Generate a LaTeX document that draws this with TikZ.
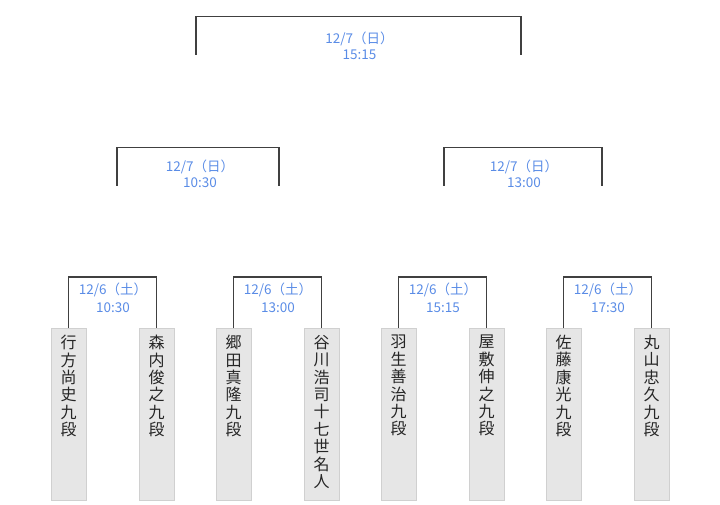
\documentclass[tikz,border=0pt]{standalone}
\usepackage{fontspec}
\setmainfont{Noto Sans CJK JP}
\definecolor{lineclr}{RGB}{64,64,64}
\definecolor{boxfill}{RGB}{230,230,230}
\definecolor{boxedge}{RGB}{208,208,208}
\definecolor{dateclr}{RGB}{90,140,230}
\begin{document}
\begin{tikzpicture}[x=1bp,y=-1bp,
  bracket/.style={draw=lineclr, line width=1.3bp},
  namebox/.style={draw=boxedge, fill=boxfill, line width=0.8bp, minimum width=35bp, minimum height=172bp, anchor=north, inner sep=0pt},
  nametext/.style={anchor=north, align=center, font=\fontsize{16bp}{17.4bp}\selectfont, inner sep=0pt, text=black!85},
  datelbl/.style={align=center, text=dateclr, inner sep=0pt, font=\fontsize{13.5bp}{16bp}\selectfont},
  datelow/.style={datelbl, font=\fontsize{13.5bp}{18.5bp}\selectfont},
]
\useasboundingbox (0,0) rectangle (720,505);

% name boxes
\node[namebox] (b1) at (68.5,328) {};
\node[namebox] (b2) at (156.5,328) {};
\node[namebox] (b3) at (233.5,328) {};
\node[namebox] (b4) at (321.5,328) {};
\node[namebox] (b5) at (398.5,328) {};
\node[namebox] (b6) at (486.5,328) {};
\node[namebox] (b7) at (563.5,328) {};
\node[namebox] (b8) at (651.5,328) {};

% names
\node[nametext] (n1) at (68.5,335) {行\\方\\尚\\史\\九\\段};
\node[nametext] (n2) at (156.5,335) {森\\内\\俊\\之\\九\\段};
\node[nametext] (n3) at (233.5,335) {郷\\田\\真\\隆\\九\\段};
\node[nametext] (n4) at (321.5,335) {谷\\川\\浩\\司\\十\\七\\世\\名\\人};
\node[nametext] (n5) at (398.5,335) {羽\\生\\善\\治\\九\\段};
\node[nametext] (n6) at (486.5,335) {屋\\敷\\伸\\之\\九\\段};
\node[nametext] (n7) at (563.5,335) {佐\\藤\\康\\光\\九\\段};
\node[nametext] (n8) at (651.5,335) {丸\\山\\忠\\久\\九\\段};

% first round brackets
\coordinate (j1) at (112,277);
\coordinate (j2) at (277,277);
\coordinate (j3) at (442,277);
\coordinate (j4) at (607,277);
\draw[bracket] (b1.north) |- (j1) -| (b2.north);
\draw[bracket] (b3.north) |- (j2) -| (b4.north);
\draw[bracket] (b5.north) |- (j3) -| (b6.north);
\draw[bracket] (b7.north) |- (j4) -| (b8.north);
\node[datelow] (d1) at (113,298) {12/6（土）\\10:30};
\node[datelow] (d2) at (278,298) {12/6（土）\\13:00};
\node[datelow] (d3) at (443,298) {12/6（土）\\15:15};
\node[datelow] (d4) at (608,298) {12/6（土）\\17:30};

% semi-final brackets
\coordinate (sl1) at (117,186);
\coordinate (sr1) at (279,186);
\coordinate (st1) at (198,147.5);
\coordinate (sl2) at (444,186);
\coordinate (sr2) at (602,186);
\coordinate (st2) at (523,147.5);
\draw[bracket] (sl1) |- (st1) -| (sr1);
\draw[bracket] (sl2) |- (st2) -| (sr2);
\node[datelbl] (d5) at (200,173.5) {12/7（日）\\10:30};
\node[datelbl] (d6) at (524,173.5) {12/7（日）\\13:00};

% final bracket
\coordinate (fl) at (196,55);
\coordinate (fr) at (521,55);
\coordinate (ft) at (358.5,16.5);
\draw[bracket] (fl) |- (ft) -| (fr);
\node[datelbl] (d7) at (359.5,46) {12/7（日）\\15:15};
\end{tikzpicture}
\end{document}
